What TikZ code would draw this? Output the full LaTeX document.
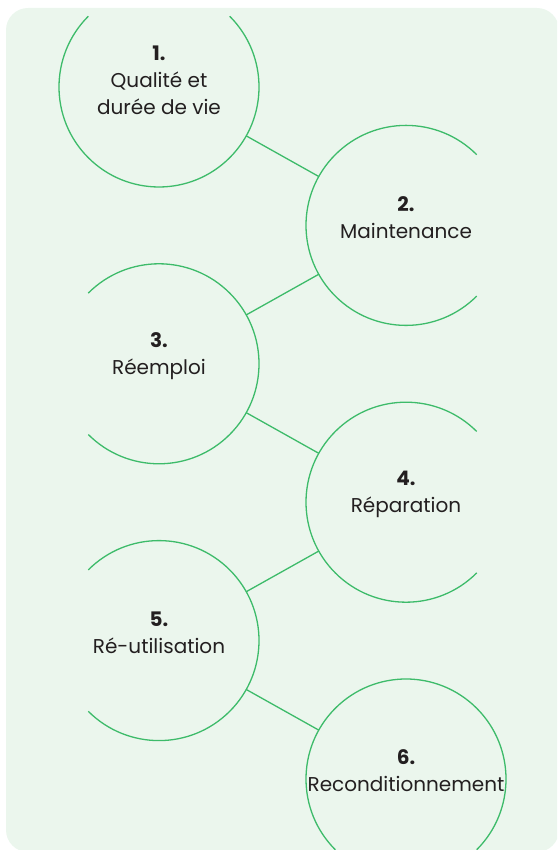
\documentclass[tikz,border=0pt]{standalone}
\usepackage{fontspec}
\setmainfont{Poppins}
\usetikzlibrary{positioning}
\definecolor{bgmint}{HTML}{EBF6ED}
\definecolor{ringgreen}{HTML}{3DBB6A}
\definecolor{txtdark}{HTML}{231F20}

\begin{document}
\begin{tikzpicture}[x=1pt,y=1pt,
    ring/.style={circle,minimum size=200pt,inner sep=0pt,outer sep=0pt},
    steptext/.style={align=center,text=txtdark,font=\fontsize{20}{27}\selectfont},
    link/.style={ringgreen,line width=1.3pt}]

  \def\xl{159}   % left column x
  \def\xr{406}   % right column x
  \def\r{100}    % ring radius

  \useasboundingbox (0,0) rectangle (557,850);
  \clip (0,0) rectangle (557,850);

  % ---- background panel ----
  \fill[bgmint,rounded corners=22pt] (6,-2) rectangle (559,842);

  % ---- ring nodes ----
  \foreach \i/\x/\y in {1/\xl/763, 2/\xr/624.6, 3/\xl/486.2,
                        4/\xr/347.8, 5/\xl/209.4, 6/\xr/71}
    \node[ring] (c\i) at (\x,\y) {};

  % ---- step texts ----
  \node[steptext] (t1) at ([yshift=7pt]c1) {\textbf{1.}\\Qualité et\\durée de vie};
  \node[steptext] (t2) at ([yshift=8pt]c2) {\textbf{2.}\\Maintenance};
  \node[steptext] (t3) at ([yshift=8pt]c3) {\textbf{3.}\\Réemploi};
  \node[steptext] (t4) at ([yshift=8pt]c4) {\textbf{4.}\\Réparation};
  \node[steptext] (t5) at ([yshift=8pt]c5) {\textbf{5.}\\Ré-utilisation};
  \node[steptext] (t6) at ([yshift=8pt]c6) {\textbf{6.}\\Reconditionnement};

  % ---- open rings (gap on the outer side) ----
  \draw[link] (c1.135) arc[start angle=135,end angle=405,radius=\r];
  \draw[link] (c2.45)  arc[start angle=45,end angle=315,radius=\r];
  \draw[link] (c3.-135) arc[start angle=-135,end angle=135,radius=\r];
  \draw[link] (c4.45)  arc[start angle=45,end angle=315,radius=\r];
  \draw[link] (c5.-135) arc[start angle=-135,end angle=135,radius=\r];
  \draw[link] (c6.-45) arc[start angle=-45,end angle=225,radius=\r];

  % ---- connectors ----
  \foreach \a/\b in {1/2,2/3,3/4,4/5,5/6}
    \draw[link] (c\a) -- (c\b);

\end{tikzpicture}
\end{document}
